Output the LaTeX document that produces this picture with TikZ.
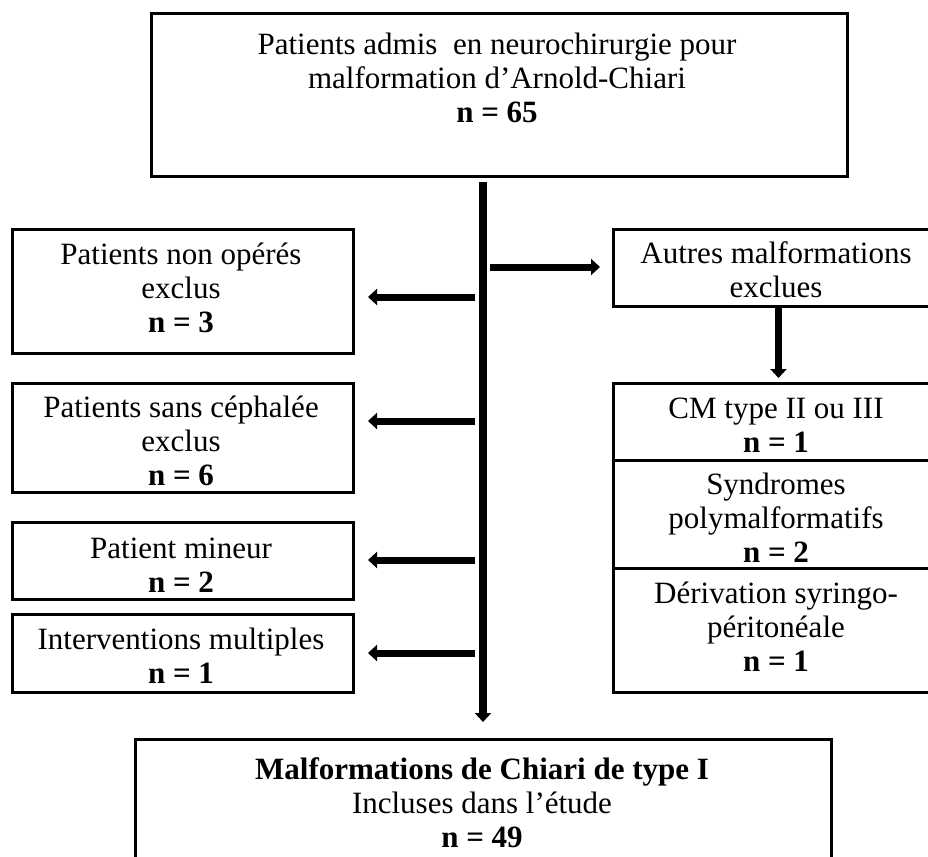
\documentclass[tikz,border=0pt]{standalone}
\usepackage{fontspec}
\setmainfont{Liberation Serif}
\usetikzlibrary{arrows.meta}
\begin{document}
\begin{tikzpicture}[x=1pt,y=-1pt,
 box/.style={draw, line width=3pt, inner sep=0pt, anchor=north west},
 txt/.style={align=center, font=\fontsize{31}{34}\selectfont, inner sep=0pt},
 arr/.style={line width=7pt, -{Triangle[width=16pt,length=9pt]}},
]
\useasboundingbox (0,0) rectangle (928,856);
% boxes
\node[box, minimum width=696pt, minimum height=163pt] (top) at (150,12) {};
\node[box, minimum width=341pt, minimum height=124pt] (L1) at (11,228) {};
\node[box, minimum width=341pt, minimum height=109pt] (L2) at (11,382) {};
\node[box, minimum width=341pt, minimum height=77pt] (L3) at (11,521) {};
\node[box, minimum width=341pt, minimum height=78pt] (L4) at (11,613) {};
\node[box, minimum width=330pt, minimum height=77pt] (R1) at (612,228) {};
\node[box, minimum width=330pt, minimum height=77pt] (S1) at (612,382) {};
\node[box, minimum width=330pt, minimum height=108pt] (S2) at (612,459) {};
\node[box, minimum width=330pt, minimum height=124pt] (S3) at (612,567) {};
\node[box, minimum width=696pt, minimum height=140pt] (bot) at (134,738) {};
% texts
\node[txt] (ttop) at (497,78) {Patients admis\ \ en neurochirurgie pour\\malformation d’Arnold-Chiari\\\textbf{n = 65}};
\node[txt] (tL1) at (181,288) {Patients non opérés\\exclus\\\textbf{n = 3}};
\node[txt] (tL2) at (181,441) {Patients sans céphalée\\exclus\\\textbf{n = 6}};
\node[txt] (tL3) at (181,565) {Patient mineur\\\textbf{n = 2}};
\node[txt] (tL4) at (181,656) {Interventions multiples\\\textbf{n = 1}};
\node[txt] (tR1) at (776,270) {Autres malformations\\exclues};
\node[txt] (tS1) at (776,425) {CM type II ou III\\\textbf{n = 1}};
\node[txt] (tS2) at (776,518) {Syndromes\\polymalformatifs\\\textbf{n = 2}};
\node[txt] (tS3) at (776,627) {Dérivation syringo-\\péritonéale\\\textbf{n = 1}};
\node[txt] (tbot) at (482,803) {\textbf{Malformations de Chiari de type I}\\Incluses dans l’étude\\\textbf{n = 49}};
% connectors
\coordinate (mtop) at (483,182);
\draw[arr, line width=8pt, shorten >=16pt] (mtop) -- (mtop |- bot.north);
\coordinate (b1) at (490,267);
\draw[arr, shorten >=12pt] (b1) -- (b1 -| R1.west);
\coordinate (a1) at (475,297);
\draw[arr, shorten >=13pt] (a1) -- (a1 -| L1.east);
\coordinate (a2) at (475,421);
\draw[arr, shorten >=13pt] (a2) -- (a2 -| L2.east);
\coordinate (a3) at (475,560);
\draw[arr, shorten >=13pt] (a3) -- (a3 -| L3.east);
\coordinate (a4) at (475,653);
\draw[arr, shorten >=13pt] (a4) -- (a4 -| L4.east);
\draw[arr, shorten >=4pt] (R1.south) -- (S1.north);
\end{tikzpicture}
\end{document}
